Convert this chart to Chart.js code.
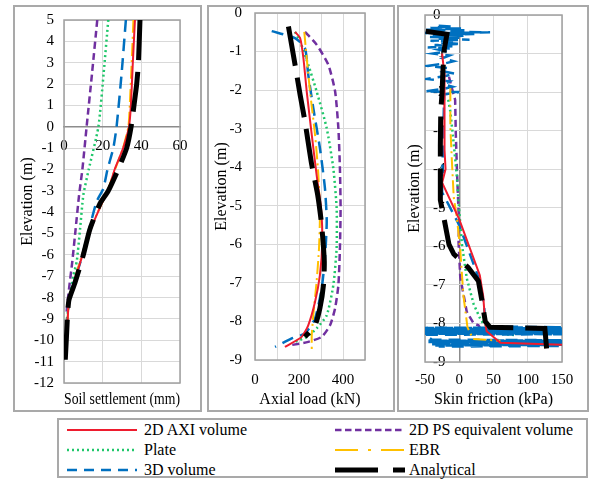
<!DOCTYPE html>
<html>
<head>
<meta charset="utf-8">
<script src="https://cdn.jsdelivr.net/npm/chart.js@4.4.0/dist/chart.umd.min.js"></script>
<style>
  body { margin: 0; background: #fff; font-family: "Liberation Serif", "Times New Roman", serif; }
  .box { position: absolute; border: 2px solid #a9a9a9; box-sizing: border-box; }
  canvas { position: absolute; }
  #legend { position: absolute; left: 57px; top: 418px; width: 531px; height: 60px; border: 2px solid #a9a9a9; box-sizing: border-box; }
  .item { position: absolute; height: 20px; font-size: 16px; line-height: 20px; white-space: nowrap; color: #000; }
  .item svg { position: absolute; left: 0; top: 0; }
  .item span { position: absolute; top: 0; }
</style>
</head>
<body>
<div class="box" style="left:13px;top:5px;width:189px;height:407px"></div>
<div class="box" style="left:207px;top:5px;width:188px;height:407px"></div>
<div class="box" style="left:397px;top:5px;width:192px;height:407px"></div>
<canvas id="settleChart" width="187" height="405" style="left:14px;top:6px"></canvas>
<canvas id="axialChart" width="186" height="405" style="left:208px;top:6px"></canvas>
<canvas id="frictionChart" width="190" height="405" style="left:398px;top:6px"></canvas>
<div id="legend"></div>
<script>
// series names, in legend order
const seriesNames = ['2D AXI volume', '2D PS equivalent volume', 'Plate', 'EBR', '3D volume', 'Analytical'];

// Soil settlement (mm) vs elevation (m)
const settleAxi = [[36.7,5],[35.6,3],[34.6,1],[33.6,0],[30.6,-1],[26.2,-2],[22.8,-3],[19.5,-3.6],[13.9,-4.8],[8.6,-6.3],[5.2,-7.3],[2.6,-8.1],[1.9,-9],[1.4,-9.8]];
const settlePs = [[17.2,5],[14.5,2.5],[11.7,0],[9.5,-2],[7.8,-3.2],[6.0,-4.8],[4.3,-6.3],[2.2,-7.9],[1.2,-8.8]];
const settlePlate = [[22.9,5],[20.5,2.5],[17.8,0],[12.8,-2],[10.0,-3.2],[8.3,-4.8],[6.6,-6.3],[4.8,-7],[3.0,-8],[1.5,-9]];
const settleEbr = [[35.9,5],[35.0,3],[34.0,1],[33.3,0],[30.5,-1],[26.4,-2],[22.5,-3],[19.0,-3.7],[13.5,-4.8],[8.3,-6.3],[5.0,-7.3],[2.6,-8.1],[1.9,-9],[1.4,-9.8]];
const settle3d = [[32.0,5],[29.8,2.5],[27.2,0],[25.5,-1],[22.5,-2],[20.3,-2.9],[16.9,-3.5],[13.0,-4.8],[8.6,-6.3],[5.0,-7.3],[2.6,-8.1],[1.8,-9],[1.4,-9.5]];
const settleAnalytical = [[39.3,5],[38.5,3],[37.6,2],[36.2,1],[34.7,0],[32.4,-1],[28.0,-2],[22.9,-3],[18.6,-3.6],[13.4,-4.8],[10.0,-6],[5.7,-7.3],[2.6,-8.1],[1.9,-8.7],[1.4,-9.6],[0.5,-11.2]];

// Axial load (kN) vs elevation (m)
const axialAxi = [[182,-0.49],[205,-0.65],[220,-1.17],[235,-2.03],[258,-3.16],[280,-4.2],[300,-5.06],[306,-5.93],[295,-6.8],[273,-7.49],[242,-8.1],[212,-8.4],[136,-8.66]];
const axialPs = [[227,-0.49],[280,-0.82],[333,-1.34],[364,-2.03],[379,-2.99],[386,-4.03],[389,-5.06],[386,-6.1],[379,-7.06],[364,-7.66],[341,-8.1],[303,-8.4],[242,-8.53],[167,-8.61]];
const axialPlate = [[182,-0.49],[205,-0.74],[242,-1.34],[280,-2.03],[326,-2.99],[356,-4.03],[371,-5.06],[371,-6.1],[356,-7.06],[326,-7.84],[280,-8.18],[235,-8.4],[182,-8.53]];
const axialEbr = [[224,-0.49],[235,-1.17],[250,-2.03],[273,-3.16],[288,-4.2],[295,-5.24],[291,-6.1],[280,-6.97],[265,-7.84],[258,-8.36],[258,-8.75]];
const axial3d = [[76,-0.47],[182,-0.65],[227,-0.91],[242,-1.6],[265,-2.47],[295,-3.5],[318,-4.55],[326,-5.41],[318,-6.36],[303,-7.14],[273,-7.92],[227,-8.31],[167,-8.44],[91,-8.66]];
const axialAnalytical = [[152,-0.35],[182,-1.34],[205,-2.12],[227,-2.81],[258,-3.94],[285,-4.72],[303,-5.5],[315,-6.45],[311,-7.06],[295,-7.66],[273,-8.1],[227,-8.4]];

// Skin friction (kPa) vs elevation (m)
const frictionAxi = [[-25,-1.0],[-22,-1.5],[-22,-2.5],[-21,-3.5],[-20,-4.0],[-25,-4.35],[0,-5.3],[30,-6.75],[35,-7.3],[38,-8.0],[40,-8.2],[60,-8.5],[150,-8.55]];
const frictionPs = [[-15,-1.6],[-10,-1.95],[-6,-2.2],[-5,-3.1],[-3.4,-4.0],[-1,-5.1],[0,-5.3],[-1,-5.9],[1.5,-6.8],[11,-7.7],[21,-8.0],[28,-8.05],[35,-8.25]];
const frictionPlate = [[-16,-2.2],[-13,-2.5],[-8,-3.35],[-3.4,-4.2],[0,-5.1],[4,-5.96],[11,-6.83],[21,-7.5],[30.5,-7.87],[35,-8.0],[55,-8.26],[80,-8.3]];
const frictionEbr = [[-13,-1.9],[-13,-2.9],[-10.7,-3.8],[-8,-4.74],[-3.4,-5.26],[1.5,-6.1],[6,-7.26],[11,-7.96],[12,-8.1],[20,-8.4],[60,-8.45]];
const friction3d = [[-30,-0.28],[-8,-0.30],[-42,-0.33],[5,-0.35],[-48,-0.38],[12,-0.40],[-45,-0.42],[45,-0.45],[-50,-0.47],[22,-0.49],[-38,-0.52],[8,-0.54],[-46,-0.57],[0,-0.59],[-32,-0.62],[15,-0.64],[-42,-0.67],[-4,-0.70],[-28,-0.72],[3,-0.75],[-36,-0.78],[-10,-0.81],[-46,-0.84],[-14,-0.87],[-30,-0.90],[-18,-0.95],[-38,-1.00],[-14,-1.05],[-24,-1.12],[-8,-1.20],[-22,-1.26],[-46,-1.32],[-16,-1.38],[-24,-1.46],[-6,-1.52],[-20,-1.58],[-48,-1.66],[-14,-1.72],[-22,-1.80],[-10,-1.86],[-24,-1.92],[-50,-1.98],[0,-2.00],[-22,-2.06],[-23,-2.8],[-24,-3.6],[-25,-4.4],[-25,-4.6],[0,-5.45],[30,-6.9],[36,-7.5],[38,-7.95],[40,-8.08],
  [150,-8.100],[-50,-8.115],[150,-8.130],[-50,-8.145],[150,-8.160],[-50,-8.175],[150,-8.190],[-50,-8.205],[150,-8.220],[-50,-8.235],[150,-8.250],[-50,-8.265],[150,-8.280],[-50,-8.295],
  [-40,-8.420],[150,-8.435],[-45,-8.450],[150,-8.465],[-45,-8.480],[150,-8.495],[-40,-8.510],[150,-8.525],[-40,-8.540],[150,-8.555],[-35,-8.570],[150,-8.585],[-30,-8.600]];
const frictionAnalytical = [[-49,-0.42],[-18,-0.5],[-22,-0.9],[-24,-1.5],[-25,-2.0],[-27,-2.5],[-27.6,-3.4],[-27.6,-4.8],[-22,-5.3],[-15,-5.95],[-8,-6.2],[13,-6.55],[28,-6.9],[33,-7.4],[38,-7.95],[45,-8.1],[125,-8.13],[127.5,-8.65]];

const styles = [
  { color: '#ee1c2e', width: 2, dash: [] },
  { color: '#7030a0', width: 2.5, dash: [7, 4] },
  { color: '#1fc76a', width: 2.5, dash: [2, 3] },
  { color: '#ffc000', width: 2, dash: [13, 4, 2, 4] },
  { color: '#0070c0', width: 2.5, dash: [12, 7] },
  { color: '#000000', width: 5, dash: [40, 12] }
];

const family = "'Liberation Serif', 'Times New Roman', serif";
Chart.defaults.font.family = family;
Chart.defaults.color = '#000';

const tickFont = { family: family, size: 15 };
const titleFont = { family: family, size: 16 };
const gridColor = '#d9d9d9';

// grey frame round the plot area
const frame = {
  id: 'frame',
  beforeDatasetsDraw(chart) {
    const a = chart.chartArea, ctx = chart.ctx;
    ctx.save();
    ctx.strokeStyle = '#a0a0a0';
    ctx.lineWidth = 1.5;
    ctx.strokeRect(a.left, a.top, a.right - a.left, a.bottom - a.top);
    ctx.restore();
  }
};

function makeDatasets(series, tension) {
  // analytical on top, red next, then the rest
  const order = [5, 0, 3, 4, 2, 1];
  return order.map(i => ({
    label: seriesNames[i],
    data: series[i].map(p => ({ x: p[0], y: p[1] })),
    borderColor: styles[i].color,
    borderWidth: styles[i].width,
    borderDash: styles[i].dash,
    pointRadius: 0,
    showLine: true,
    fill: false,
    tension: tension,
    xAxisID: 'x',
    yAxisID: 'y'
  }));
}

function fixWidth(w) {
  return s => { s.width = w; s.paddingTop = 0; s.paddingBottom = 0; };
}
function fixHeight(h) {
  return s => { s.height = h; s.paddingLeft = 0; s.paddingRight = 0; };
}

const baseOptions = {
  responsive: false,
  animation: false,
  plugins: { legend: { display: false }, tooltip: { enabled: false } }
};

// Soil settlement
new Chart(document.getElementById('settleChart'), {
  type: 'scatter',
  data: { datasets: makeDatasets([settleAxi, settlePs, settlePlate, settleEbr, settle3d, settleAnalytical], 0.2) },
  options: {
    ...baseOptions,
    layout: { padding: { top: 14, right: 21, left: 0, bottom: 0 } },
    scales: {
      x: {
        type: 'linear', position: { y: 0 }, min: 0, max: 60,
        ticks: { stepSize: 20, padding: 10, font: tickFont, color: '#000', maxRotation: 0, autoSkip: false },
        grid: { color: gridColor, drawTicks: false },
        border: { color: '#8c8c8c', width: 1.5 },
        afterFit: fixHeight(30)
      },
      xt: {
        type: 'linear', position: 'bottom', min: 0, max: 60,
        ticks: { display: false },
        grid: { display: false, drawTicks: false },
        border: { display: false },
        title: { display: true, text: 'Soil settlement (mm)', font: titleFont, color: '#000', padding: { top: 0, bottom: 2 } },
        afterFit: fixHeight(28)
      },
      y: {
        type: 'linear', position: 'left', min: -12, max: 5,
        ticks: { stepSize: 1, padding: 10, font: tickFont, color: '#000', autoSkip: false },
        grid: { color: gridColor, drawTicks: false },
        border: { display: false },
        title: { display: true, text: 'Elevation (m)', font: titleFont, color: '#000' },
        afterFit: fixWidth(50)
      }
    }
  },
  plugins: [frame]
});

// Axial load
new Chart(document.getElementById('axialChart'), {
  type: 'scatter',
  data: { datasets: makeDatasets([axialAxi, axialPs, axialPlate, axialEbr, axial3d, axialAnalytical], 0.2) },
  options: {
    ...baseOptions,
    layout: { padding: { top: 7, right: 29, left: 0, bottom: 0 } },
    scales: {
      x: {
        type: 'linear', position: 'bottom', min: 0, max: 500,
        ticks: {
          stepSize: 100, padding: 11, font: tickFont, color: '#000',
          maxRotation: 0, minRotation: 0, autoSkip: false,
          callback: v => (v % 200 === 0 ? String(v) : '')
        },
        grid: { color: gridColor, drawTicks: false },
        border: { display: false },
        title: { display: true, text: 'Axial load (kN)', font: titleFont, color: '#000', padding: { top: 0, bottom: 2 } },
        afterFit: fixHeight(51)
      },
      y: {
        type: 'linear', position: 'left', min: -9, max: 0,
        ticks: { stepSize: 1, padding: 13, font: tickFont, color: '#000', autoSkip: false },
        grid: { color: gridColor, drawTicks: false },
        border: { display: false },
        title: { display: true, text: 'Elevation (m)', font: titleFont, color: '#000' },
        afterFit: fixWidth(47)
      }
    }
  },
  plugins: [frame]
});

// Skin friction: tick labels sit inside the plot, left of the zero line
new Chart(document.getElementById('frictionChart'), {
  type: 'scatter',
  data: { datasets: makeDatasets([frictionAxi, frictionPs, frictionPlate, frictionEbr, friction3d, frictionAnalytical], 0) },
  options: {
    ...baseOptions,
    layout: { padding: { top: 9, right: 26, left: 3, bottom: 0 } },
    scales: {
      x: {
        type: 'linear', position: 'bottom', min: -50, max: 150,
        ticks: { stepSize: 50, padding: 9, font: tickFont, color: '#000', maxRotation: 0, autoSkip: false },
        grid: {
          color: c => (c.tick && c.tick.value === 0 ? '#8c8c8c' : gridColor),
          lineWidth: c => (c.tick && c.tick.value === 0 ? 1.5 : 1),
          drawTicks: false
        },
        border: { display: false },
        title: { display: true, text: 'Skin friction (kPa)', font: titleFont, color: '#000', padding: { top: 0, bottom: 2 } },
        afterFit: fixHeight(49)
      },
      y: {
        type: 'linear', position: 'left', min: -9, max: 0,
        ticks: { stepSize: 1, mirror: true, padding: 8, font: tickFont, color: '#000', autoSkip: false },
        grid: { color: gridColor, drawTicks: false },
        border: { display: false },
        title: { display: true, text: 'Elevation (m)', font: titleFont, color: '#000' },
        afterFit: fixWidth(24)
      }
    }
  },
  plugins: [frame]
});

// shared legend, two columns
const legendPos = [[65, 418], [333, 418], [65, 438], [333, 438], [65, 458], [333, 458]];
const legendDash = ['', '6.5 3.5', '2 3', '23 10 3 10', '10 7', '43 15'];
const legendEl = document.getElementById('legend');
seriesNames.forEach((name, i) => {
  const s = styles[i];
  const item = document.createElement('div');
  item.className = 'item';
  item.style.left = (legendPos[i][0] - 57) + 'px';
  item.style.top = (legendPos[i][1] - 418) + 'px';
  item.innerHTML = '<svg width="70" height="20"><line x1="0" y1="10" x2="70" y2="10" stroke="' + s.color +
    '" stroke-width="' + s.width + '" stroke-dasharray="' + legendDash[i] + '"/></svg>' +
    '<span style="left:' + (i % 2 === 0 ? 77 : 74) + 'px">' + name + '</span>';
  legendEl.appendChild(item);
});
</script>
</body>
</html>
